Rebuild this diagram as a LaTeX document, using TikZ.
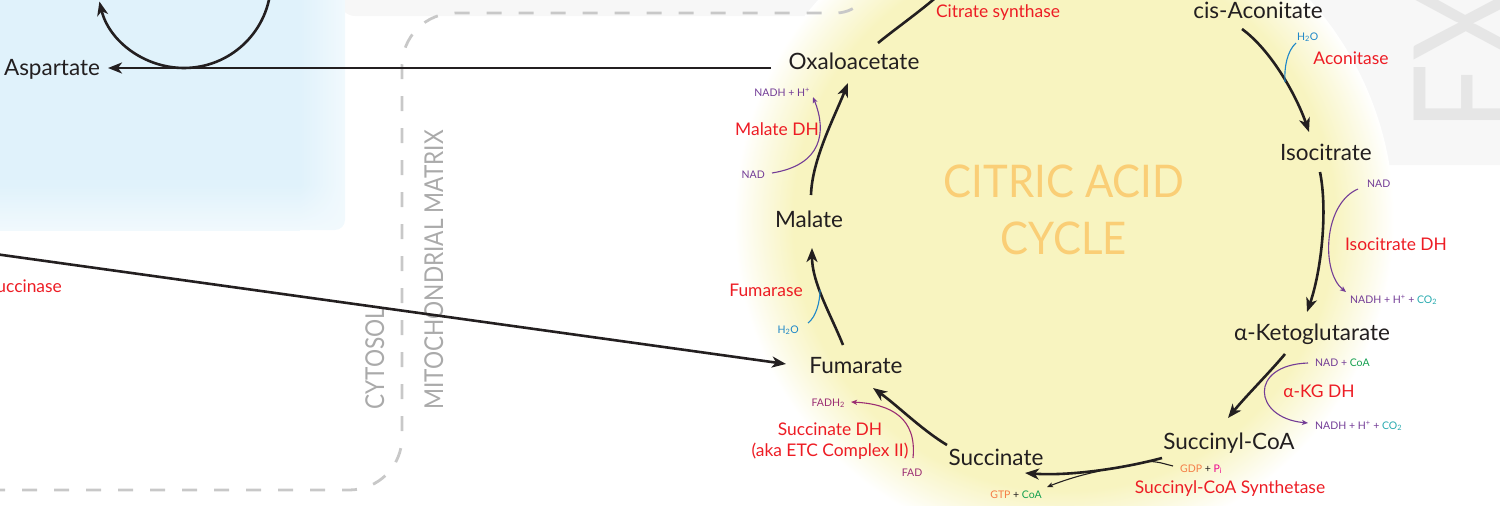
\documentclass[tikz,border=0pt]{standalone}
\usepackage{fontspec}
\setmainfont{Lato}
\usetikzlibrary{arrows.meta,calc,shadings}
\definecolor{ink}{RGB}{35,31,32}
\definecolor{enz}{RGB}{237,28,36}
\definecolor{pur}{RGB}{115,60,150}
\definecolor{wat}{RGB}{30,135,200}
\definecolor{tealc}{RGB}{40,170,175}
\definecolor{grn}{RGB}{20,160,80}
\definecolor{org}{RGB}{245,125,70}
\definecolor{mag}{RGB}{236,0,140}
\definecolor{plum}{RGB}{155,45,115}
\definecolor{cyc}{RGB}{250,206,118}
\definecolor{memb}{RGB}{200,200,200}
\definecolor{compt}{RGB}{170,170,170}
\definecolor{skyb}{RGB}{224,242,251}
\definecolor{skyl}{RGB}{241,249,253}
\definecolor{yel}{RGB}{248,244,192}
\definecolor{yelmid}{RGB}{251,249,222}
\definecolor{panel}{RGB}{247,247,247}
\definecolor{exg}{RGB}{230,230,230}
\pgfdeclareradialshading{yelshade}{\pgfpoint{0bp}{0bp}}{color(0bp)=(yel); color(20.5bp)=(yel); color(22.7bp)=(yelmid); color(25bp)=(white); color(50bp)=(white)}
\tikzset{
  chem/.style={font=\fontsize{22.5}{26}\selectfont, text=ink, inner sep=0pt, anchor=base},
  enzlab/.style={font=\fontsize{17.4}{21}\selectfont, text=enz, inner sep=0pt, anchor=base},
  cof/.style={font=\fontsize{10.5}{12}\selectfont, inner sep=0pt, anchor=base},
  mainarr/.style={draw=ink, line width=2.6pt, -{Stealth[length=14pt,width=11pt,inset=4pt]}},
  plainline/.style={draw=ink, line width=2.6pt},
  sidearr/.style={line width=1.1pt, -{Stealth[length=6pt,width=5pt,inset=1.5pt]}},
  sideline/.style={line width=1.1pt},
  compart/.style={font=\fontsize{26}{30}\selectfont, text=compt, inner sep=0pt, rotate=90, anchor=base west},
  title/.style={font=\fontsize{45}{50}\selectfont, text=cyc, anchor=base, inner sep=0pt},
  membline/.style={draw=memb, line width=2.8pt, dash pattern=on 15pt off 17pt}
}
\begin{document}
\begin{tikzpicture}[x=1pt,y=-1pt]
\useasboundingbox (0,0) rectangle (1500,506);
\clip (0,0) rectangle (1500,506);
% background panels
\fill[panel, rounded corners=15pt] (340,-50) -- (1600,-50) -- (1600,165) -- (1250,165) -- (1250,16) -- (340,16) -- cycle;
% cytosol blue area with soft right and bottom edges
\fill[skyb] (-20,-20) rectangle (300,185);
\shade[left color=skyb, right color=skyl] (300,-20) rectangle (345,185);
\shade[top color=skyb, bottom color=skyl] (-20,185) rectangle (300,230);
\shade[upper left=skyb, upper right=skyl, lower left=skyl, lower right=skyl]
  (300,185) -- (345,185) -- (345,220) .. controls (345,225.5) and (340.5,230) .. (335,230) -- (300,230) -- cycle;
\shade[shading=yelshade] (1064,220) circle (330pt);
% membrane
\draw[membline] (-10,490) -- (349,490) .. controls (378.3,490) and (402,466.3) .. (402,437)
  -- (402,66) .. controls (402,36.7) and (425.7,13) .. (455,13)
  -- (836,13) .. controls (858.1,13) and (876,-9.1) .. (876,-27) -- (876,-60);
\node[compart] (cyto) at (384,410) {\scalebox{0.87}[1]{CYTOSOL}};
\node[compart] (mito) at (443,410) {\scalebox{0.87}[1]{MITOCHONDRIAL MATRIX}};
\node[font=\fontsize{150}{150}\selectfont, text=exg, inner sep=0pt, rotate=90, anchor=base west] (ex) at (1521,132) {\scalebox{0.8}[1]{EX}};
% cycle title
\node[title] (ttl1) at (1064,197) {\scalebox{0.93}[1]{CITRIC ACID}};
\node[title] (ttl2) at (1064,254) {\scalebox{0.93}[1]{CYCLE}};
% metabolites
\node[chem] (oxa) at (854,69) {Oxaloacetate};
\node[chem] (cis) at (1258,18) {cis-Aconitate};
\node[chem] (iso) at (1326,160) {Isocitrate};
\node[chem] (akg) at (1312,340) {α-Ketoglutarate};
\node[chem] (sca) at (1229,449) {Succinyl-CoA};
\node[chem] (suc) at (996,465) {Succinate};
\node[chem] (fum) at (856,373) {Fumarate};
\node[chem] (mal) at (809,227) {Malate};
\node[chem] (asp) at (52,75) {Aspartate};
% enzymes
\node[enzlab] (cs) at (998,17) {Citrate synthase};
\node[enzlab] (acon) at (1351,64) {Aconitase};
\node[enzlab] (idh) at (1396,250) {Isocitrate DH};
\node[enzlab] (kgdh) at (1319,397) {α-KG DH};
\node[enzlab] (scs) at (1230,493) {Succinyl-CoA Synthetase};
\node[enzlab] (sdh) at (830,435) {Succinate DH};
\node[enzlab] (sdh2) at (830,456) {(aka ETC Complex II)};
\node[enzlab] (fumase) at (766,296) {Fumarase};
\node[enzlab] (mdh) at (777,135) {Malate DH};
\node[enzlab, anchor=base east] (ucc) at (62,292) {uccinase};
% cofactors
\node[cof, text=pur, anchor=base east] (mnadh) at (810,96) {NADH + H\textsuperscript{+}};
\node[cof, text=pur, anchor=base east] (mnad) at (765,178) {NAD};
\node[cof, text=wat, anchor=base east] (fh2o) at (799,333) {H\textsubscript{2}O};
\node[cof, text=wat, anchor=base west] (ah2o) at (1297,40) {H\textsubscript{2}O};
\node[cof, text=pur, anchor=base west] (inad) at (1367,187) {NAD};
\node[cof, text=pur, anchor=base west] (inadh) at (1350,303) {NADH + H\textsuperscript{+} + \textcolor{tealc}{CO\textsubscript{2}}};
\node[cof, text=pur, anchor=base west] (knad) at (1315,366) {NAD + \textcolor{grn}{CoA}};
\node[cof, text=pur, anchor=base west] (knadh) at (1315,429) {NADH + H\textsuperscript{+} + \textcolor{tealc}{CO\textsubscript{2}}};
\node[cof, text=ink, anchor=base west] (gdp) at (1180,472) {\textcolor{org}{GDP} + \textcolor{mag}{P\textsubscript{i}}};
\node[cof, text=ink, anchor=base east] (gtp) at (1042,498) {\textcolor{org}{GTP} + \textcolor{grn}{CoA}};
\node[cof, text=plum] (fad) at (912,476) {FAD};
\node[cof, text=plum, anchor=base east] (fadh) at (845,406) {FADH\textsubscript{2}};
% free ends
\coordinate (csend) at (950,-16);
\coordinate (loopin) at (270.7,-11.4);
\coordinate (loopbot) at (184,68);
\coordinate (loopout) at (99.4,1.5);
\coordinate (leftin) at (-5,254);
\coordinate (gdpjoin) at (1148,461.5);
\coordinate (gtpsplit) at (1100,471);
% main cycle arrows
\draw[mainarr] ($(mal.base)+(2,-32)$) .. controls +(1,-35) and +(-14,35) .. ($(oxa.base)+(-6,14)$);
\draw[plainline] ($(oxa.base)+(24,-26)$) .. controls +(18,-15) and +(-15,17) .. (csend);
\draw[mainarr] ($(cis.base)+(-16,11)$) .. controls +(30,22) and +(-12,-35) .. ($(iso.base)+(-17,-28)$);
\draw[mainarr] ($(iso.base)+(-6,12)$) .. controls +(8,40) and +(14,-40) .. ($(akg.base)+(-5,-28)$);
\draw[mainarr] ($(akg.base)+(-27,14)$) .. controls +(-15,18) and +(18,-22) .. ($(sca.base)+(-1,-31)$);
\draw[mainarr] ($(sca.base)+(-67,9)$) .. controls +(-45,12) and +(40,3) .. ($(suc.base)+(29,8)$);
\draw[mainarr] ($(suc.base)+(-49,-20)$) .. controls +(-25,-15) and +(25,18) .. ($(fum.base)+(17,15)$);
\draw[mainarr] ($(fum.base)+(-13,-28)$) .. controls +(-12,-30) and +(0,35) .. ($(mal.base)+(3,21)$);
% transport / other
\draw[mainarr] ($(oxa.base)+(-83,-1)$) -- ($(asp.base)+(56,-7)$);
\draw[mainarr] (loopin) .. controls (266.8,33.5) and (229.1,68) .. (loopbot) .. controls (143.8,68) and (108.8,40.6) .. (loopout);
\draw[mainarr] (leftin) -- ($(fum.base)+(-70,-9)$);
% side reactions
\draw[sidearr, draw=pur] ($(mnad.base east)+(7,-5)$) .. controls +(50,-8) and +(14,35) .. ($(mnadh.base east)+(3,1)$);
\draw[sideline, draw=wat] ($(fh2o.base east)+(9,-10)$) .. controls +(8,-6) and +(0,12) .. ($(fum.base)+(-36,-83)$);
\draw[sideline, draw=wat] ($(ah2o.base west)+(-1,3)$) .. controls +(-9,8) and +(-1,-14) .. ($(iso.base)+(-41,-78)$);
\draw[sidearr, draw=pur] ($(inad.base west)+(-9,2)$) .. controls +(-35,15) and +(-25,-20) .. ($(inadh.base west)+(-4,-11)$);
\draw[sidearr, draw=pur] ($(knad.base west)+(-7,-3)$) .. controls +(-60,2) and +(-55,-5) .. ($(knadh.base west)+(-7,-6)$);
\draw[sideline, draw=ink] ($(gdp.base west)+(-7,-6)$) .. controls +(-12,-3) and +(10,0) .. (gdpjoin);
\draw[sidearr, draw=ink] (gtpsplit) .. controls +(-20,4) and +(15,-6) .. ($(gtp.base east)+(5,-11)$);
\draw[sidearr, draw=plum] ($(fad.base)+(1,-18)$) .. controls +(4,-40) and +(40,2) .. ($(fadh.base east)+(6,-4)$);
\end{tikzpicture}
\end{document}
